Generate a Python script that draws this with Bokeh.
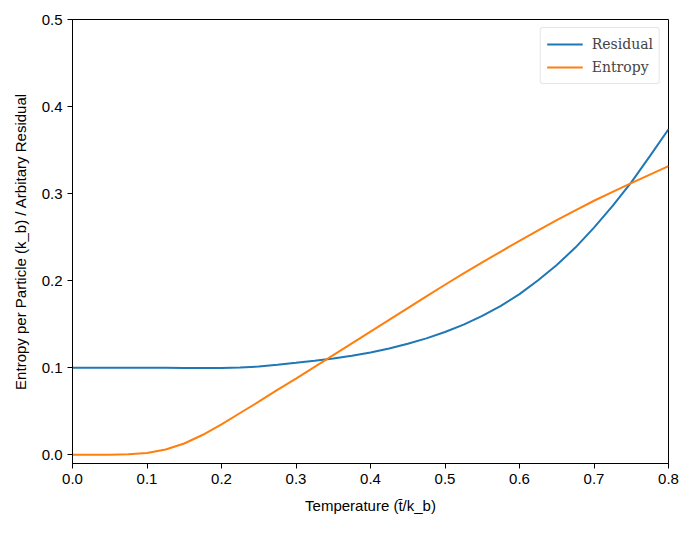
from bokeh.plotting import figure
from bokeh.models import FixedTicker, PrintfTickFormatter, Range1d, Legend, LegendItem
from bokeh.embed import file_html
from bokeh.resources import INLINE

temperature = [0.0, 0.025, 0.05, 0.075, 0.1, 0.125, 0.15, 0.175, 0.2, 0.225, 0.25, 0.275,
               0.3, 0.325, 0.35, 0.375, 0.4, 0.425, 0.45, 0.475, 0.5, 0.525, 0.55, 0.575,
               0.6, 0.625, 0.65, 0.675, 0.7, 0.725, 0.75, 0.775, 0.8]
residual = [0.100, 0.100, 0.100, 0.100, 0.100, 0.0999, 0.0998, 0.0997, 0.0997, 0.1002, 0.1013, 0.1033,
            0.1056, 0.108, 0.1106, 0.1138, 0.1176, 0.1222, 0.1275, 0.1337, 0.141, 0.1495, 0.1595, 0.171,
            0.1845, 0.2005, 0.218, 0.238, 0.261, 0.286, 0.313, 0.343, 0.374]
entropy = [0.0, 0.0, 0.0, 0.0005, 0.002, 0.006, 0.013, 0.023, 0.035, 0.048, 0.061, 0.0745,
           0.0875, 0.101, 0.1145, 0.128, 0.1415, 0.155, 0.1685, 0.182, 0.1953, 0.2083, 0.221, 0.2335,
           0.2458, 0.2578, 0.2695, 0.2808, 0.2918, 0.302, 0.312, 0.3218, 0.3315]
x_ticks = [0.0, 0.1, 0.2, 0.3, 0.4, 0.5, 0.6, 0.7, 0.8]
y_ticks = [0.0, 0.1, 0.2, 0.3, 0.4, 0.5]

p = figure(frame_width=596, frame_height=444, output_backend="svg", toolbar_location=None,
           x_range=Range1d(0.0, 0.8), y_range=Range1d(-0.01, 0.5),
           min_border_left=72, min_border_top=19, min_border_right=17, min_border_bottom=60)
p.background_fill_color = "white"
p.border_fill_color = "white"
p.outline_line_color = "black"
p.outline_line_width = 1
p.xgrid.visible = False
p.ygrid.visible = False

r1 = p.line(temperature, residual, line_color="#1f77b4", line_width=2)
r2 = p.line(temperature, entropy, line_color="#ff7f0e", line_width=2)

for ax in (p.xaxis[0], p.yaxis[0]):
    ax.minor_tick_line_color = None
    ax.major_tick_out = 5
    ax.major_tick_in = 0
    ax.axis_line_color = "black"
    ax.major_tick_line_color = "black"
    ax.major_label_text_font = "Liberation Sans"
    ax.major_label_text_font_size = "15px"
    ax.major_label_text_color = "black"
    ax.major_label_standoff = 5
    ax.axis_label_text_font = "Liberation Sans"
    ax.axis_label_text_font_size = "15px"
    ax.axis_label_text_font_style = "normal"
    ax.axis_label_text_color = "black"
    ax.formatter = PrintfTickFormatter(format="%.1f")

p.xaxis.ticker = FixedTicker(ticks=x_ticks)
p.yaxis.ticker = FixedTicker(ticks=y_ticks)
p.xaxis.axis_label = "Temperature (t̄/k_b)"
p.yaxis.axis_label = "Entropy per Particle (k_b) / Arbitary Residual"
p.xaxis.axis_label_standoff = 10
p.yaxis.axis_label_standoff = 10

legend = Legend(items=[LegendItem(label="Residual", renderers=[r1]),
                       LegendItem(label="Entropy", renderers=[r2])],
                location="top_right")
legend.label_text_font = "DejaVu Serif"
legend.label_text_font_size = "14px"
legend.border_line_color = "#cccccc"
legend.border_line_width = 1
legend.border_radius = 3
legend.glyph_width = 36
legend.spacing = 3
legend.padding = 6
legend.margin = 8
legend.label_standoff = 9
p.add_layout(legend)

open("out.html", "w").write(file_html(p, INLINE))
